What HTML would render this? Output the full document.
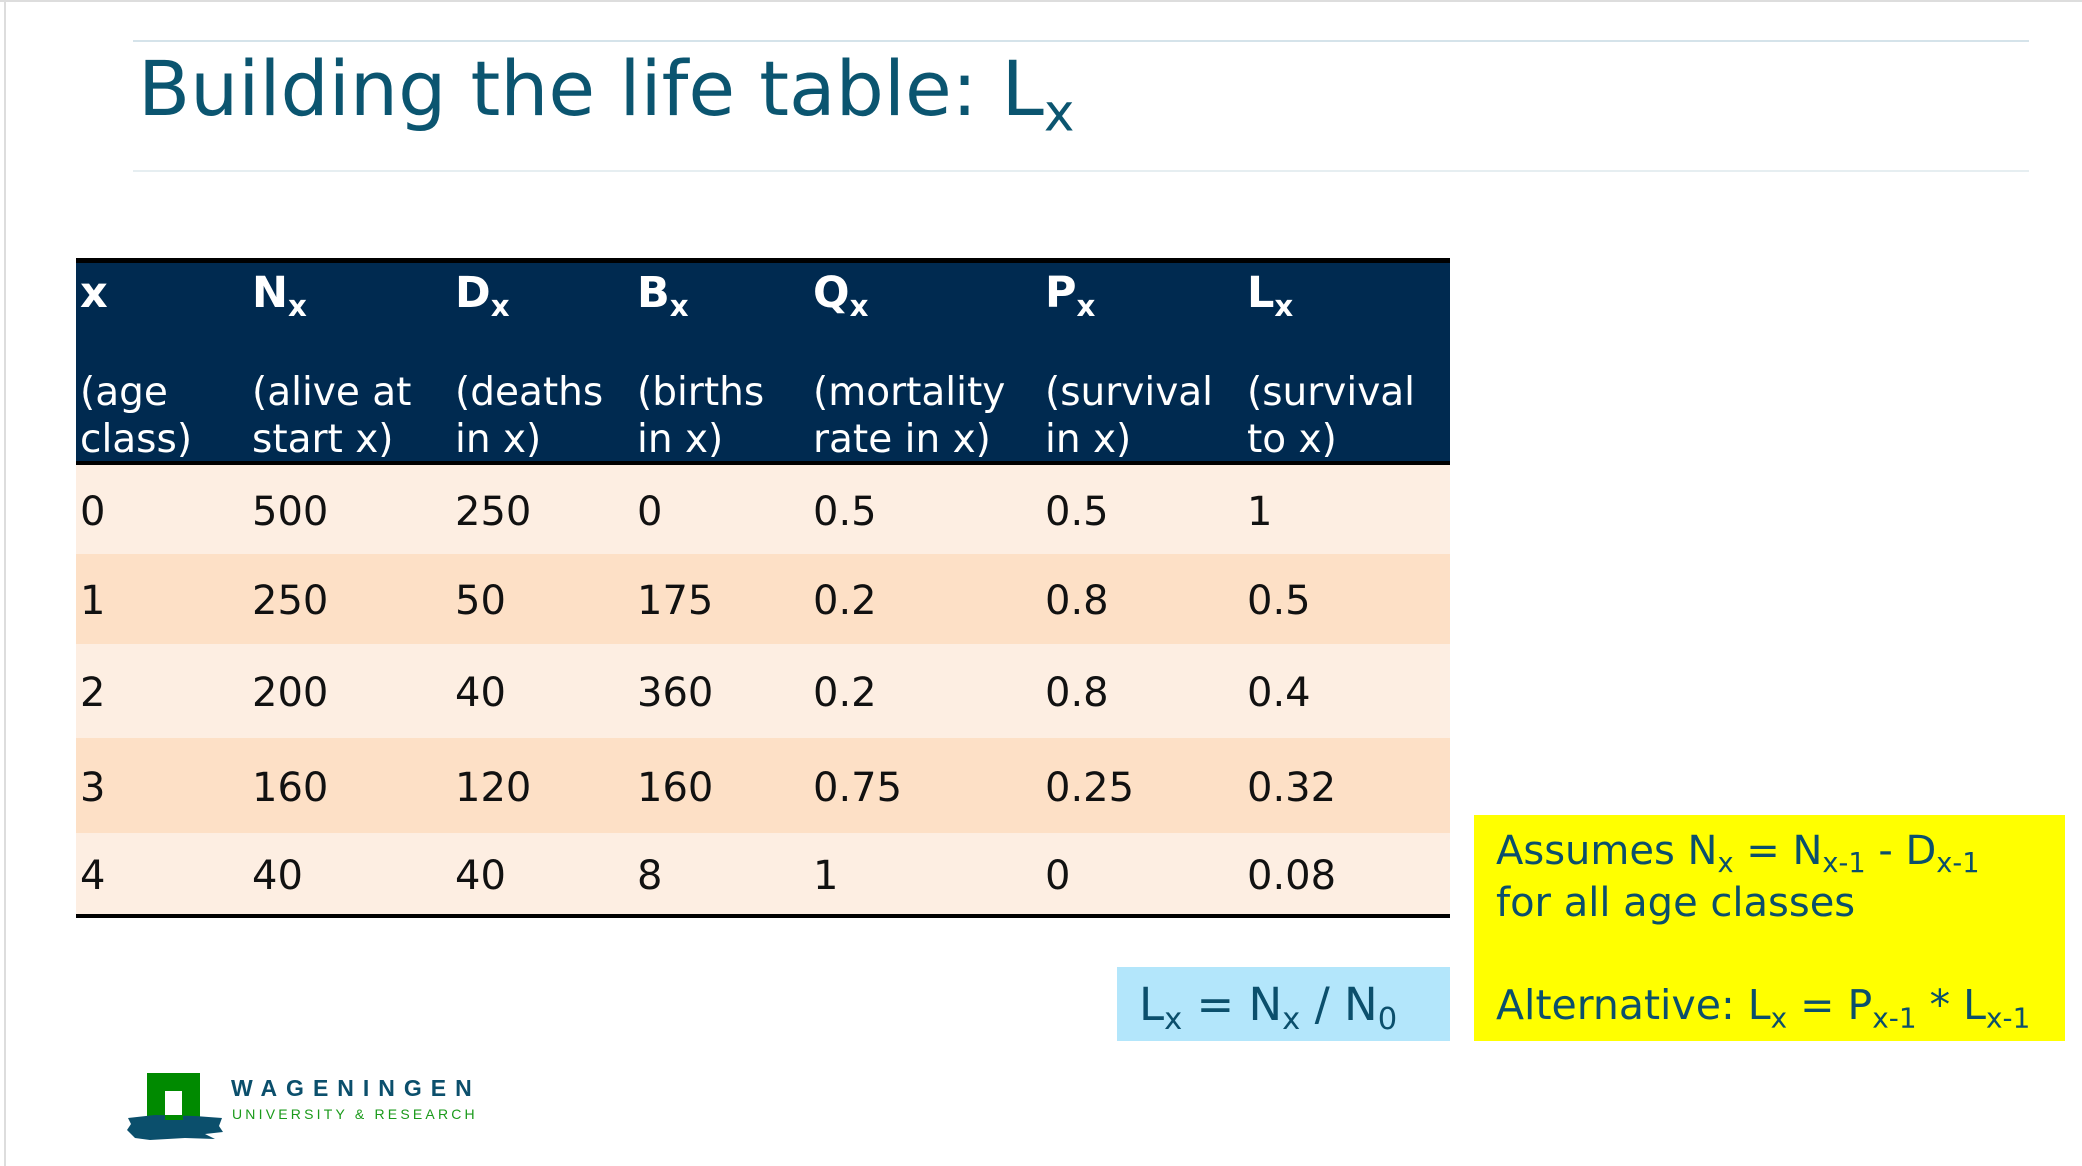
<!DOCTYPE html>
<html><head><meta charset="utf-8"><style>
*{margin:0;padding:0;box-sizing:border-box}
body{width:2082px;height:1166px;position:relative;background:#fff;overflow:hidden;font-family:"DejaVu Sans","Liberation Sans",sans-serif}
.a{position:absolute;white-space:nowrap}
sub{font-size:0.68em;vertical-align:-0.3em;line-height:0}
.h{color:#fff;font-weight:bold;font-size:43px}
.hs{color:#fff;font-size:39px;line-height:47px}
.d{color:#111;font-size:40px}
.t{color:#0b4f6c}
</style></head><body>
<div class="a" style="left:0;top:0;width:2082px;height:2px;background:#ddd"></div>
<div class="a" style="left:4px;top:0;width:2px;height:1166px;background:#ddd"></div>
<div class="a" style="left:133px;top:40px;width:1896px;height:2px;background:#d5e3ea"></div>
<div class="a" style="left:133px;top:170px;width:1896px;height:2px;background:#e6eef1"></div>
<div class="a t" style="left:138px;top:44px;font-size:76px;color:#0b5570">Building the life table: L<sub>x</sub></div>

<div class="a" style="left:76px;top:258px;width:1374px;height:5px;background:#000"></div>
<div class="a" style="left:76px;top:263px;width:1374px;height:198px;background:#002a50"></div>
<div class="a" style="left:76px;top:461px;width:1374px;height:4px;background:#000"></div>
<div class="a" style="left:76px;top:465px;width:1374px;height:89px;background:#fdeee2"></div>
<div class="a" style="left:76px;top:554px;width:1374px;height:90px;background:#fde0c6"></div>
<div class="a" style="left:76px;top:644px;width:1374px;height:94px;background:#fdeee2"></div>
<div class="a" style="left:76px;top:738px;width:1374px;height:95px;background:#fde0c6"></div>
<div class="a" style="left:76px;top:833px;width:1374px;height:81px;background:#fdeee2"></div>
<div class="a" style="left:76px;top:914px;width:1374px;height:4px;background:#000"></div>

<div class="a h" style="left:80px;top:268px">x</div>
<div class="a h" style="left:252px;top:268px">N<sub>x</sub></div>
<div class="a h" style="left:455px;top:268px">D<sub>x</sub></div>
<div class="a h" style="left:637px;top:268px">B<sub>x</sub></div>
<div class="a h" style="left:813px;top:268px">Q<sub>x</sub></div>
<div class="a h" style="left:1045px;top:268px">P<sub>x</sub></div>
<div class="a h" style="left:1247px;top:268px">L<sub>x</sub></div>

<div class="a hs" style="left:80px;top:369px">(age<br>class)</div>
<div class="a hs" style="left:252px;top:369px">(alive at<br>start x)</div>
<div class="a hs" style="left:455px;top:369px">(deaths<br>in x)</div>
<div class="a hs" style="left:637px;top:369px">(births<br>in x)</div>
<div class="a hs" style="left:813px;top:369px">(mortality<br>rate in x)</div>
<div class="a hs" style="left:1045px;top:369px">(survival<br>in x)</div>
<div class="a hs" style="left:1247px;top:369px">(survival<br>to x)</div>

<div class="a d" style="left:0;top:489px;width:2082px">
<span class="a" style="left:80px">0</span><span class="a" style="left:252px">500</span><span class="a" style="left:455px">250</span><span class="a" style="left:637px">0</span><span class="a" style="left:813px">0.5</span><span class="a" style="left:1045px">0.5</span><span class="a" style="left:1247px">1</span></div>
<div class="a d" style="left:0;top:578px;width:2082px">
<span class="a" style="left:80px">1</span><span class="a" style="left:252px">250</span><span class="a" style="left:455px">50</span><span class="a" style="left:637px">175</span><span class="a" style="left:813px">0.2</span><span class="a" style="left:1045px">0.8</span><span class="a" style="left:1247px">0.5</span></div>
<div class="a d" style="left:0;top:670px;width:2082px">
<span class="a" style="left:80px">2</span><span class="a" style="left:252px">200</span><span class="a" style="left:455px">40</span><span class="a" style="left:637px">360</span><span class="a" style="left:813px">0.2</span><span class="a" style="left:1045px">0.8</span><span class="a" style="left:1247px">0.4</span></div>
<div class="a d" style="left:0;top:765px;width:2082px">
<span class="a" style="left:80px">3</span><span class="a" style="left:252px">160</span><span class="a" style="left:455px">120</span><span class="a" style="left:637px">160</span><span class="a" style="left:813px">0.75</span><span class="a" style="left:1045px">0.25</span><span class="a" style="left:1247px">0.32</span></div>
<div class="a d" style="left:0;top:853px;width:2082px">
<span class="a" style="left:80px">4</span><span class="a" style="left:252px">40</span><span class="a" style="left:455px">40</span><span class="a" style="left:637px">8</span><span class="a" style="left:813px">1</span><span class="a" style="left:1045px">0</span><span class="a" style="left:1247px">0.08</span></div>

<div class="a" style="left:1117px;top:967px;width:333px;height:74px;background:#b3e6fb"></div>
<div class="a t" style="left:1139px;top:978px;font-size:45px">L<sub>x</sub> = N<sub>x</sub> / N<sub>0</sub></div>

<div class="a" style="left:1474px;top:815px;width:591px;height:226px;background:#ffff00"></div>
<div class="a t" style="left:1496px;top:825px;font-size:40px;line-height:52px">Assumes N<sub>x</sub> = N<sub>x-1</sub> - D<sub>x-1</sub><br>for all age classes</div>
<div class="a t" style="left:1496px;top:981px;font-size:41px">Alternative: L<sub>x</sub> = P<sub>x-1</sub> * L<sub>x-1</sub></div>

<div class="a" style="left:147px;top:1073px;width:53px;height:47px;background:#008a00"></div>
<div class="a" style="left:165px;top:1091px;width:17px;height:29px;background:#fff"></div>
<svg class="a" style="left:125px;top:1112px" width="100" height="30"><path d="M3 6 L30 3 L70 4 L97 6 L94 14 L98 20 L80 22 L90 27 L60 26 L25 28 L10 26 L2 18 L6 12 Z" fill="#0b4f6c"/><rect x="40" y="3" width="18" height="5" fill="#008a00"/></svg>
<div class="a" style="left:231px;top:1075px;font-size:23px;letter-spacing:9px;color:#0b4f6c;font-family:'Liberation Sans',sans-serif;font-weight:bold">WAGENINGEN</div>
<div class="a" style="left:232px;top:1106px;font-size:14px;letter-spacing:3.2px;color:#1a9a1a;font-family:'Liberation Sans',sans-serif">UNIVERSITY &amp; RESEARCH</div>
</body></html>
